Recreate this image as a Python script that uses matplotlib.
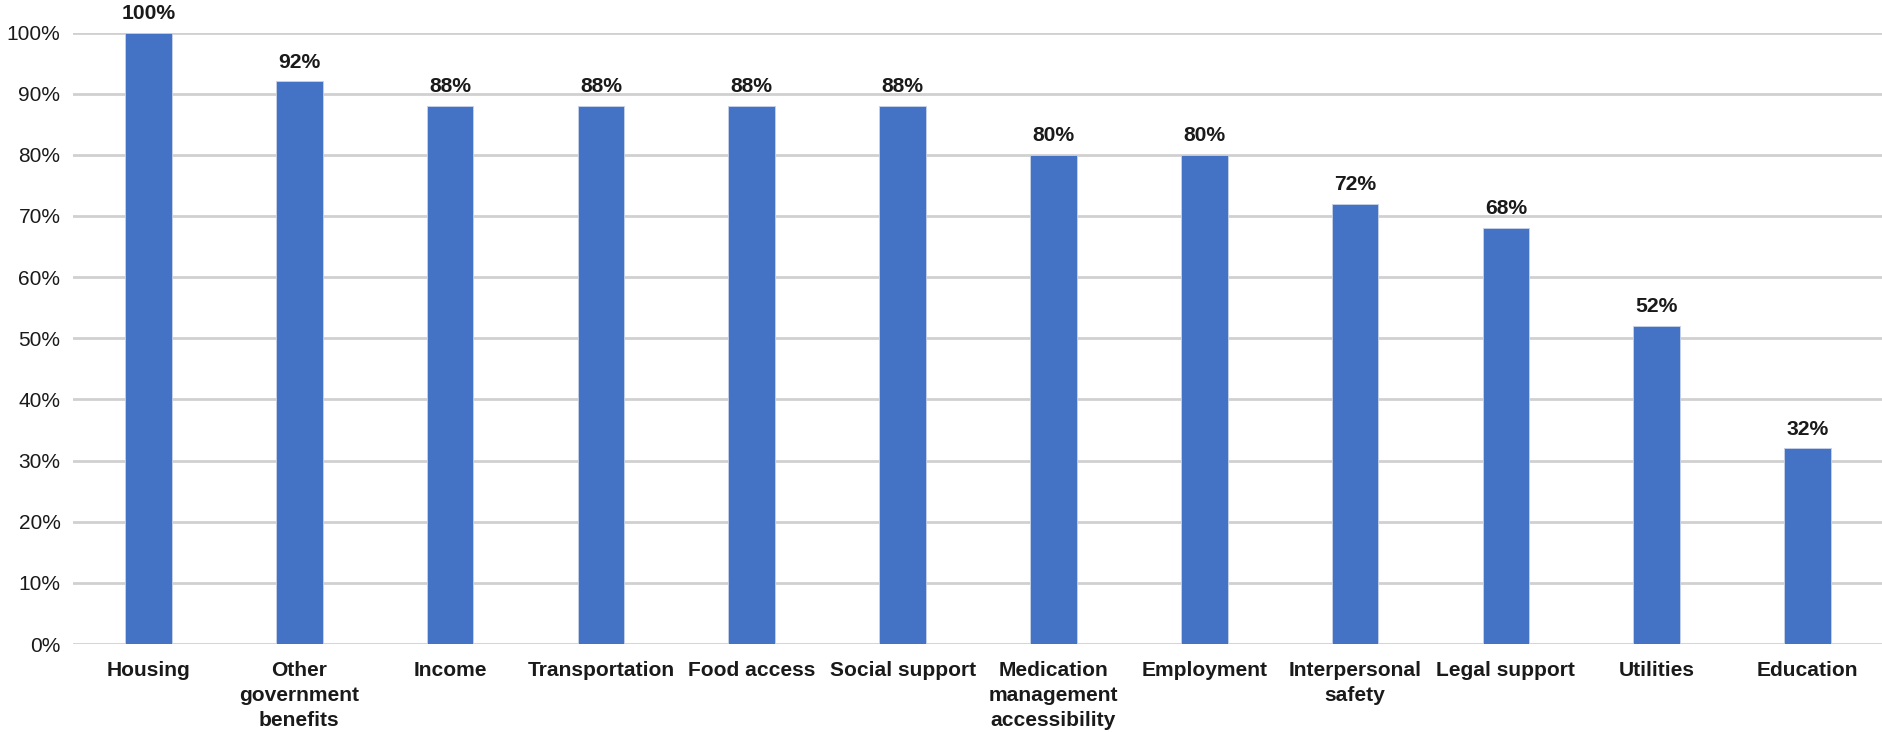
import matplotlib
matplotlib.use("Agg")
import matplotlib.pyplot as plt
from matplotlib.ticker import PercentFormatter

plt.rcParams['font.family'] = ['Liberation Sans', 'DejaVu Sans']

categories = ["Housing", "Other\ngovernment\nbenefits", "Income", "Transportation",
              "Food access", "Social support", "Medication\nmanagement\naccessibility",
              "Employment", "Interpersonal\nsafety", "Legal support", "Utilities", "Education"]
values = [100, 92, 88, 88, 88, 88, 80, 80, 72, 68, 52, 32]
yticks = list(range(0, 101, 10))

fig = plt.figure(figsize=(18.83, 7.32), dpi=100)
ax = fig.add_axes([73 / 1883, 1 - 644 / 732, 1 - 73 / 1883, (644 - 32.5) / 732])

x = range(len(categories))
bars = ax.bar(x, values, width=0.31, color="#4472C4", edgecolor="#c9d3e8",
              linewidth=0.6, zorder=3)

for b, v in zip(bars, values):
    ax.annotate(f"{v}%", (b.get_x() + b.get_width() / 2, v), xytext=(0, 7),
                textcoords="offset points", ha="center", va="bottom",
                fontsize=15.2, fontweight="bold", color="#1a1a1a", clip_on=False)

ax.set_xlim(-0.5, len(categories) - 0.5)
ax.set_ylim(0, 100)
ax.set_yticks(yticks)
ax.yaxis.set_major_formatter(PercentFormatter(decimals=0))
ax.set_xticks(list(x))
ax.set_xticklabels(categories, fontsize=15.1, fontweight="bold", color="#1a1a1a",
                   linespacing=1.38, va="top")
ax.tick_params(axis="y", labelsize=15, labelcolor="#1a1a1a", length=0, pad=9)
ax.tick_params(axis="x", length=0, pad=12.5)

ax.grid(axis="y", color="#d0d0d0", linewidth=2, zorder=0)
ax.set_axisbelow(True)
for s in ax.spines.values():
    s.set_visible(False)

fig.savefig("out.png", dpi=100)
